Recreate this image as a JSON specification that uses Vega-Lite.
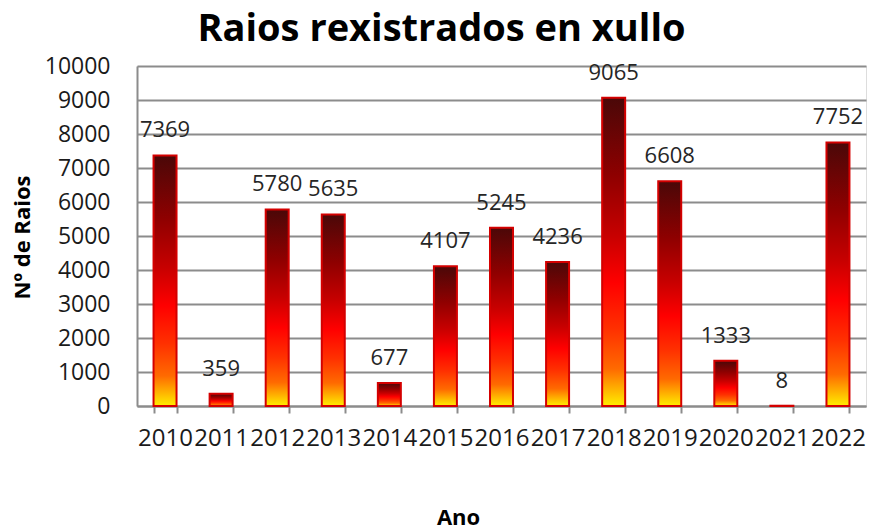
{
  "$schema": "https://vega.github.io/schema/vega-lite/v6.json",
  "width": 729,
  "height": 340,
  "autosize": {"type": "none"},
  "padding": {"left": 137, "top": 66, "right": 3, "bottom": 124},
  "background": "white",
  "title": {
    "text": "Raios rexistrados en xullo",
    "font": "Open Sans",
    "fontSize": 38,
    "fontWeight": "bold",
    "color": "#000000",
    "anchor": "middle",
    "dx": -60,
    "offset": 6
  },
  "data": {
    "values": [
      {"ano": "2010", "raios": 7369},
      {"ano": "2011", "raios": 359},
      {"ano": "2012", "raios": 5780},
      {"ano": "2013", "raios": 5635},
      {"ano": "2014", "raios": 677},
      {"ano": "2015", "raios": 4107},
      {"ano": "2016", "raios": 5245},
      {"ano": "2017", "raios": 4236},
      {"ano": "2018", "raios": 9065},
      {"ano": "2019", "raios": 6608},
      {"ano": "2020", "raios": 1333},
      {"ano": "2021", "raios": 8},
      {"ano": "2022", "raios": 7752}
    ]
  },
  "encoding": {
    "x": {
      "field": "ano",
      "type": "ordinal",
      "scale": {"paddingInner": 0.59, "paddingOuter": 0.295},
      "axis": {
        "title": "Ano",
        "titleFont": "Open Sans",
        "titleFontSize": 22,
        "titleFontWeight": "bold",
        "titleColor": "#000000",
        "titleX": 321,
        "titleY": 111,
        "titleAlign": "center",
        "titleBaseline": "middle",
        "labelAngle": 0,
        "labelFont": "Open Sans",
        "labelFontSize": 24,
        "labelColor": "#1a1a1a",
        "labelPadding": 13,
        "tickBand": "extent",
        "tickSize": 7,
        "tickColor": "#8c8c8c",
        "tickWidth": 2,
        "domainColor": "#8c8c8c",
        "domainWidth": 2,
        "grid": false
      }
    },
    "y": {
      "field": "raios",
      "type": "quantitative",
      "scale": {"domain": [0, 10000], "nice": false},
      "axis": {
        "title": "Nº de Raios",
        "titleFont": "Open Sans",
        "titleFontSize": 22,
        "titleFontWeight": "bold",
        "titleColor": "#000000",
        "titleX": -115,
        "titleY": 171,
        "titleBaseline": "middle",
        "values": [0, 1000, 2000, 3000, 4000, 5000, 6000, 7000, 8000, 9000, 10000],
        "format": "d",
        "labelFont": "Open Sans",
        "labelFontSize": 23,
        "labelColor": "#1a1a1a",
        "labelPadding": 27,
        "ticks": false,
        "domainColor": "#8c8c8c",
        "domainWidth": 2,
        "grid": true,
        "gridColor": "#8c8c8c",
        "gridWidth": 2
      }
    }
  },
  "layer": [
    {
      "mark": {
        "type": "bar",
        "stroke": "#d40000",
        "strokeWidth": 2,
        "color": {
          "gradient": "linear",
          "x1": 0, "y1": 0, "x2": 0, "y2": 1,
          "stops": [
            {"offset": 0, "color": "#4a0808"},
            {"offset": 0.25, "color": "#8e0000"},
            {"offset": 0.45, "color": "#c80000"},
            {"offset": 0.6, "color": "#ff0000"},
            {"offset": 0.75, "color": "#ff3000"},
            {"offset": 0.88, "color": "#ff6a00"},
            {"offset": 1, "color": "#ffee00"}
          ]
        }
      }
    },
    {
      "mark": {
        "type": "text",
        "font": "Open Sans",
        "fontSize": 22,
        "color": "#262626",
        "baseline": "alphabetic",
        "dy": -18
      },
      "encoding": {"text": {"field": "raios", "type": "quantitative", "format": "d"}}
    }
  ]
}
